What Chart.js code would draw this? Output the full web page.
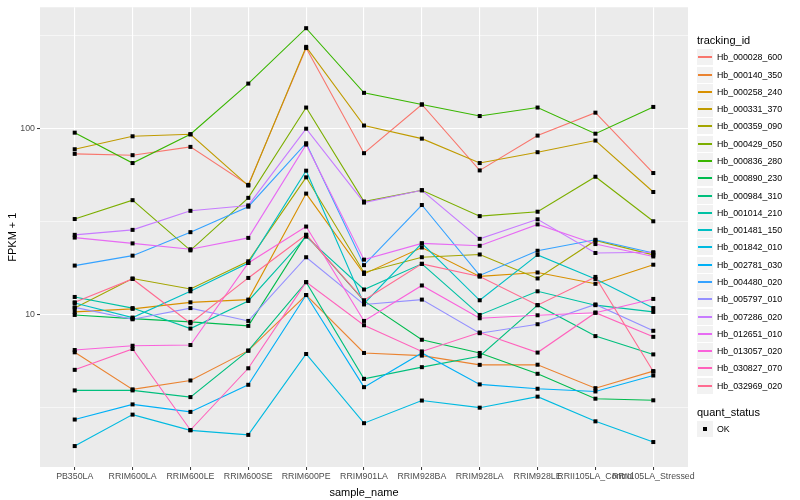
<!DOCTYPE html>
<html>
<head>
<meta charset="utf-8">
<script src="https://cdn.jsdelivr.net/npm/chart.js@4.4.0/dist/chart.umd.min.js"></script>
<style>
  body { margin: 0; background: #fff; font-family: "Liberation Sans", Arial, sans-serif; }
  #wrap { position: relative; width: 800px; height: 500px; }
  #chart { position: absolute; left: 0; top: 0; }
  .ltitle { position: absolute; left: 697px; font-size: 11px; line-height: 13px; color: #000; }
  .key { position: absolute; left: 697px; width: 16px; height: 16px; background: #F2F2F2; }
  .key i { position: absolute; display: block; left: 1px; width: 14px; top: 7px; height: 2px; }
  .key b { position: absolute; left: 6px; top: 6px; width: 4px; height: 4px; background: #000; }
  .lab { position: absolute; left: 717px; font-size: 8.8px; line-height: 10px; color: #000; white-space: nowrap; }
</style>
</head>
<body>
<div id="wrap">
  <canvas id="chart" width="800" height="500"></canvas>
</div>
<script>
// sample names on the x axis
const samples = ['PB350LA', 'RRIM600LA', 'RRIM600LE', 'RRIM600SE', 'RRIM600PE', 'RRIM901LA',
  'RRIM928BA', 'RRIM928LA', 'RRIM928LE', 'RRII105LA_Control', 'RRII105LA_Stressed'];

// FPKM + 1 per gene, one value per sample
const hb_000028_600 = [73.2, 72.0, 79.8, 49.8, 272, 73.8, 135, 59.6, 91.8, 122, 57.7];
const hb_000140_350 = [6.24, 3.94, 4.40, 6.37, 12.7, 6.19, 5.99, 5.34, 5.35, 4.00, 4.94];
const hb_000258_240 = [10.3, 10.7, 11.6, 12.0, 44.7, 16.5, 22.9, 16.0, 16.8, 14.6, 18.5];
const hb_000331_370 = [77.5, 91.0, 93.3, 49.4, 276, 104, 88.4, 65.3, 74.7, 86.3, 45.6];
const hb_000359_090 = [10.8, 15.6, 13.7, 19.3, 54.7, 16.8, 20.3, 21.0, 15.6, 25.0, 20.9];
const hb_000429_050 = [32.6, 41.2, 22.1, 42.4, 130, 40.5, 46.6, 33.8, 35.7, 55.1, 31.7];
const hb_000836_280 = [95.2, 65.3, 93.3, 175, 348, 156, 135, 117, 130, 94.0, 131];
const hb_000890_230 = [9.92, 9.48, 9.10, 8.66, 26.8, 11.8, 7.29, 6.19, 4.78, 3.51, 3.44];
const hb_000984_310 = [3.89, 3.89, 3.58, 6.37, 14.9, 4.49, 5.19, 5.94, 11.2, 7.63, 6.08];
const hb_001014_210 = [12.4, 10.8, 8.38, 11.8, 26.2, 13.6, 18.7, 9.92, 13.3, 11.2, 10.3];
const hb_001481_150 = [11.5, 9.60, 13.3, 18.9, 59.4, 11.4, 24.1, 11.9, 20.9, 15.5, 10.8];
const hb_001842_010 = [1.95, 2.88, 2.37, 2.24, 6.11, 2.59, 3.43, 3.14, 3.60, 2.65, 2.05];
const hb_002781_030 = [2.71, 3.27, 2.98, 4.17, 12.7, 4.05, 6.19, 4.19, 3.97, 3.84, 4.68];
const hb_004480_020 = [18.3, 20.7, 27.7, 38.0, 83.5, 18.4, 38.8, 16.2, 22.0, 25.2, 21.4];
const hb_005797_010 = [10.9, 9.40, 10.8, 9.21, 20.3, 11.3, 12.0, 7.91, 8.84, 11.3, 8.15];
const hb_007286_020 = [26.8, 28.5, 36.1, 38.6, 100, 40.0, 46.6, 25.5, 32.5, 21.4, 21.6];
const hb_012651_010 = [25.9, 24.1, 22.4, 25.8, 82.1, 19.7, 24.1, 23.4, 30.5, 23.9, 20.5];
const hb_013057_020 = [6.42, 6.77, 6.83, 18.9, 29.7, 9.21, 14.3, 9.52, 9.88, 10.2, 12.1];
const hb_030827_070 = [5.02, 6.50, 2.38, 5.12, 14.9, 8.73, 6.31, 7.98, 6.22, 10.2, 7.56];
const hb_032969_020 = [11.6, 15.5, 8.95, 15.7, 26.8, 11.9, 18.7, 16.0, 11.2, 15.9, 4.92];

const trackingIds = ['Hb_000028_600', 'Hb_000140_350', 'Hb_000258_240', 'Hb_000331_370', 'Hb_000359_090',
  'Hb_000429_050', 'Hb_000836_280', 'Hb_000890_230', 'Hb_000984_310', 'Hb_001014_210', 'Hb_001481_150',
  'Hb_001842_010', 'Hb_002781_030', 'Hb_004480_020', 'Hb_005797_010', 'Hb_007286_020', 'Hb_012651_010',
  'Hb_013057_020', 'Hb_030827_070', 'Hb_032969_020'];
const seriesValues = [hb_000028_600, hb_000140_350, hb_000258_240, hb_000331_370, hb_000359_090,
  hb_000429_050, hb_000836_280, hb_000890_230, hb_000984_310, hb_001014_210, hb_001481_150,
  hb_001842_010, hb_002781_030, hb_004480_020, hb_005797_010, hb_007286_020, hb_012651_010,
  hb_013057_020, hb_030827_070, hb_032969_020];
const hueColors = ['#F8766D', '#EA8331', '#D89000', '#C09B00', '#A3A500', '#7CAE00', '#39B600', '#00BB4E',
  '#00BF7D', '#00C1A3', '#00BFC4', '#00BAE0', '#00B0F6', '#35A2FF', '#9590FF', '#C77CFF', '#E76BF3',
  '#FA62DB', '#FF62BC', '#FF6C91'];

const quantStatus = ['OK'];

// y axis ticks (log10), labelled and unlabelled
const yMajor = [10, 100];
const yMinor = [3.162, 31.62, 316.2];

// grey panel behind everything
const panelBg = {
  id: 'panelBg',
  beforeDraw(chart) {
    const { ctx, chartArea: a } = chart;
    ctx.save();
    ctx.fillStyle = '#EBEBEB';
    ctx.fillRect(a.left, a.top, a.width, a.height);
    ctx.restore();
  }
};

// black square points drawn above all lines, like geom_point after geom_line
const pointsOnTop = {
  id: 'pointsOnTop',
  afterDatasetsDraw(chart) {
    const ctx = chart.ctx;
    ctx.save();
    ctx.fillStyle = '#000';
    chart.data.datasets.forEach((ds, i) => {
      chart.getDatasetMeta(i).data.forEach(p => ctx.fillRect(p.x - 2, p.y - 2, 4, 4));
    });
    ctx.restore();
  }
};

const n = trackingIds.length;
const datasets = seriesValues.map((vals, i) => ({
  label: trackingIds[i],
  data: vals.map((v, j) => ({ x: j, y: v })),
  borderColor: hueColors[i],
  borderWidth: 1.1,
  pointRadius: 0,
  fill: false,
  tension: 0,
  order: n - i
}));

new Chart(document.getElementById('chart'), {
  type: 'line',
  data: { datasets },
  plugins: [panelBg, pointsOnTop],
  options: {
    responsive: false,
    animation: false,
    events: [],
    layout: { padding: { left: 0, right: 112, top: 5, bottom: 0 } },
    plugins: { legend: { display: false }, tooltip: { enabled: false } },
    scales: {
      x: {
        type: 'linear',
        min: -0.6,
        max: samples.length - 1 + 0.6,
        afterBuildTicks: s => { s.ticks = samples.map((_, i) => ({ value: i })); },
        afterFit: s => { s.height = 33; },
        border: { display: false },
        grid: { color: '#FFFFFF', lineWidth: 1.1, tickColor: '#333333', tickLength: 3, tickWidth: 1 },
        ticks: {
          autoSkip: false, maxRotation: 0, minRotation: 0, padding: 1,
          color: '#4D4D4D', font: { family: 'Liberation Sans', size: 8.8 },
          callback: (v, i) => samples[i]
        },
        title: {
          display: true, text: 'sample_name', color: '#000',
          font: { family: 'Liberation Sans', size: 11 }, padding: { top: 6, bottom: 0 }
        }
      },
      y: {
        type: 'logarithmic',
        min: 1.504,
        max: 451,
        afterBuildTicks: s => {
          s.ticks = yMinor.concat(yMajor).sort((a, b) => a - b).map(v => ({ value: v }));
        },
        afterFit: s => { s.width = 40; },
        border: { display: false },
        grid: {
          color: '#FFFFFF',
          lineWidth: c => (yMajor.includes(c.tick.value) ? 1.1 : 0.55),
          tickColor: c => (yMajor.includes(c.tick.value) ? '#333333' : 'rgba(0,0,0,0)'),
          tickLength: 3,
          tickWidth: 1
        },
        ticks: {
          padding: 2, color: '#4D4D4D', font: { family: 'Liberation Sans', size: 8.8 },
          callback: v => (yMajor.includes(v) ? String(v) : '')
        },
        title: {
          display: true, text: 'FPKM + 1', color: '#000',
          font: { family: 'Liberation Sans', size: 11 }, padding: { top: 6, bottom: 0 }
        }
      }
    }
  }
});

// ggplot-style legends, as html text
const wrap = document.getElementById('wrap');
function addEl(cls, top, html) {
  const el = document.createElement('div');
  el.className = cls;
  el.style.top = top + 'px';
  el.innerHTML = html;
  wrap.appendChild(el);
  return el;
}
const keyStep = 17.28;
addEl('ltitle', 40.7 - 6.5, 'tracking_id');
trackingIds.forEach((id, i) => {
  const c = 57.3 + i * keyStep;
  addEl('key', Math.round(c - 8), '<i style="background-color:' + hueColors[i] + '"></i>');
  addEl('lab', c - 5, id);
});
addEl('ltitle', 412.3 - 6.5, 'quant_status');
quantStatus.forEach((s, i) => {
  const c = 429.3 + i * keyStep;
  addEl('key', Math.round(c - 8), '<b></b>');
  addEl('lab', c - 5, s);
});
</script>
</body>
</html>
